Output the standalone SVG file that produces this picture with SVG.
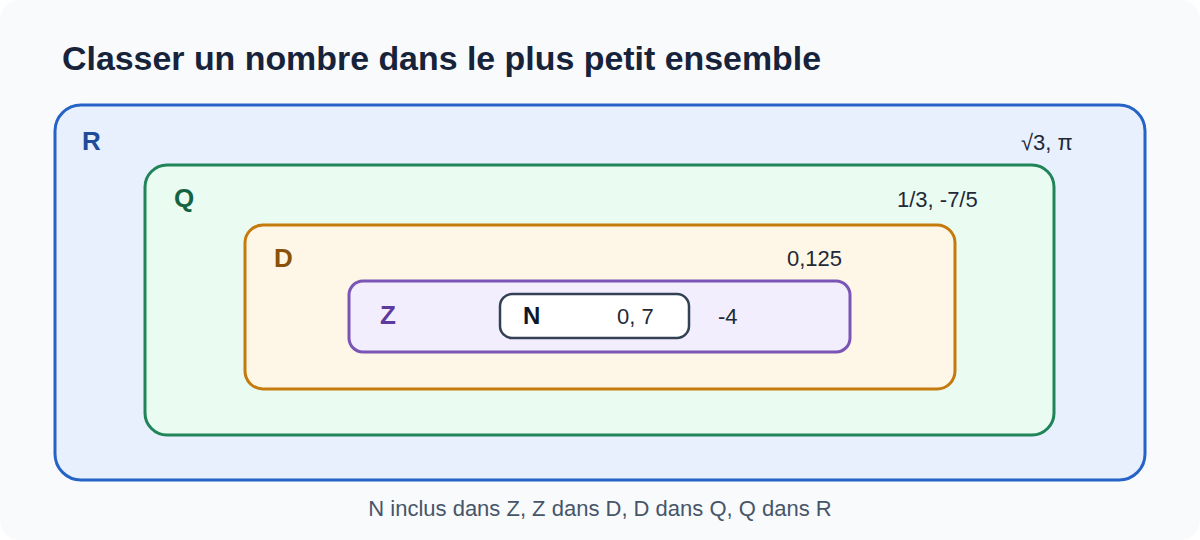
<svg xmlns="http://www.w3.org/2000/svg" width="1200" height="540" viewBox="0 0 1200 540">
<style>
text{font-family:"Liberation Sans",Arial,sans-serif}
.title{font-size:33.9px;font-weight:bold;fill:#17233a}
.lbl{font-size:26px;font-weight:bold}
.val{font-size:22px;fill:#1f2937}
.foot{font-size:22px;fill:#475569}
.set{stroke-width:3}
</style>
<rect x="0" y="0" width="1200" height="540" rx="20" fill="#f8fafc"/>
<text class="title" x="62" y="70">Classer un nombre dans le plus petit ensemble</text>
<g id="R">
<rect class="set" x="55" y="105" width="1090" height="375" rx="26" fill="#e8f0fe" stroke="#2563c6"/>
<text class="lbl" x="82" y="150" fill="#1e4c9a">R</text>
<text class="val" x="1021" y="150">√3, π</text>
</g>
<g id="Q">
<rect class="set" x="145" y="165" width="909" height="270" rx="22" fill="#eafcf2" stroke="#1f8458"/>
<text class="lbl" x="174" y="207" fill="#166343">Q</text>
<text class="val" x="897" y="207">1/3, -7/5</text>
</g>
<g id="D">
<rect class="set" x="245" y="225" width="710" height="164" rx="18" fill="#fef6e6" stroke="#c47a0c"/>
<text class="lbl" x="274" y="267" fill="#8a5208">D</text>
<text class="val" x="787" y="266">0,125</text>
</g>
<g id="Z">
<rect class="set" x="349" y="281" width="501" height="71" rx="14" fill="#f3eefd" stroke="#7a55b6"/>
<text class="lbl" x="380" y="324" fill="#5d3b9c">Z</text>
<text class="val" x="718" y="324">-4</text>
</g>
<g id="N">
<rect x="500" y="294" width="189" height="44" rx="12" fill="#ffffff" stroke="#334155" stroke-width="2.5"/>
<text class="lbl" x="523" y="324" fill="#0f172a" style="font-size:24px">N</text>
<text class="val" x="617" y="324">0, 7</text>
</g>
<g id="connectors"></g>
<text class="foot" x="600" y="516" text-anchor="middle">N inclus dans Z, Z dans D, D dans Q, Q dans R</text>
</svg>
